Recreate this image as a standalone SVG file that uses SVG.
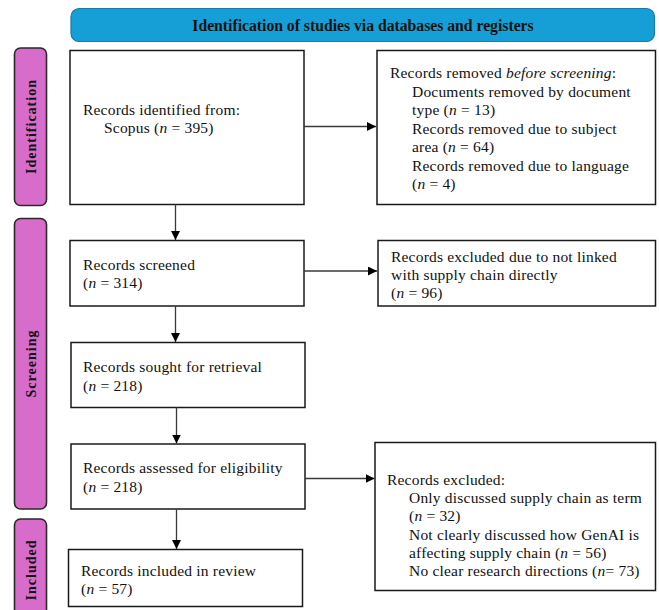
<svg xmlns="http://www.w3.org/2000/svg" width="659" height="610" viewBox="0 0 659 610">
<style>
.bg{fill:#ffffff}
.box{fill:#ffffff;stroke:#1a1a1a;stroke-width:1.5}
.hdr{fill:#169fd6;stroke:#1a7aa8;stroke-width:1.2}
.side{fill:#d76ccb;stroke:#2a2a2a;stroke-width:1.6}
.t{font-family:"Liberation Serif","Times New Roman",serif;font-size:15.5px;letter-spacing:0.2px;fill:#111}
.hb{font-family:"Liberation Serif","Times New Roman",serif;font-size:15.7px;font-weight:bold;fill:#111}
.sb{font-family:"Liberation Serif","Times New Roman",serif;font-size:14px;font-weight:bold;fill:#111;letter-spacing:1px}
.c{stroke:#3a3a3a;stroke-width:1.3;fill:none}
</style>
<defs>
<marker id="ah" viewBox="0 0 10 10" refX="10" refY="5" markerWidth="9" markerHeight="9" markerUnits="userSpaceOnUse" orient="auto">
<path d="M0,0 L10,5 L0,10 Z" fill="#000"/>
</marker>
</defs>
<rect class="bg" x="0" y="0" width="659" height="610"/>

<g id="header">
<rect class="hdr" x="71" y="8.5" width="583.5" height="33" rx="8"/>
<text class="hb" x="363" y="30.5" text-anchor="middle">Identification of studies via databases and registers</text>
</g>

<g id="side-identification">
<rect class="side" x="14.5" y="48" width="32" height="157.5" rx="6"/>
<text class="sb" transform="translate(35.5,126.5) rotate(-90)" text-anchor="middle">Identification</text>
</g>
<g id="side-screening">
<rect class="side" x="14.5" y="218.5" width="32" height="290.5" rx="6"/>
<text class="sb" transform="translate(35.5,363.5) rotate(-90)" text-anchor="middle">Screening</text>
</g>
<g id="side-included">
<rect class="side" x="14.5" y="519" width="32" height="104" rx="6"/>
<text class="sb" transform="translate(35.5,570) rotate(-90)" text-anchor="middle">Included</text>
</g>

<g id="identified">
<rect class="box" x="70" y="50.5" width="234" height="154"/>
<text class="t" x="83" y="115">Records identified from:</text>
<text class="t" x="104" y="133">Scopus (<tspan font-style="italic">n</tspan> = 395)</text>
</g>

<g id="removed">
<rect class="box" x="377" y="50.5" width="278.5" height="154"/>
<text class="t" x="390" y="78">Records removed <tspan font-style="italic">before screening</tspan>:</text>
<text class="t" x="412" y="96.5">Documents removed by document</text>
<text class="t" x="412" y="115">type (<tspan font-style="italic">n</tspan> = 13)</text>
<text class="t" x="412" y="133.5">Records removed due to subject</text>
<text class="t" x="412" y="152">area (<tspan font-style="italic">n</tspan> = 64)</text>
<text class="t" x="412" y="170.5">Records removed due to language</text>
<text class="t" x="412" y="189">(<tspan font-style="italic">n</tspan> = 4)</text>
</g>

<g id="screened">
<rect class="box" x="70" y="240.5" width="234" height="65.5"/>
<text class="t" x="83" y="269.5">Records screened</text>
<text class="t" x="83" y="288">(<tspan font-style="italic">n</tspan> = 314)</text>
</g>

<g id="excluded-link">
<rect class="box" x="378" y="240.5" width="277.5" height="65.5"/>
<text class="t" x="391" y="262">Records excluded due to not linked</text>
<text class="t" x="391" y="280">with supply chain directly</text>
<text class="t" x="391" y="298">(<tspan font-style="italic">n</tspan> = 96)</text>
</g>

<g id="sought">
<rect class="box" x="71" y="342.5" width="234" height="65"/>
<text class="t" x="83" y="372">Records sought for retrieval</text>
<text class="t" x="83" y="390.5">(<tspan font-style="italic">n</tspan> = 218)</text>
</g>

<g id="assessed">
<rect class="box" x="71" y="444" width="234" height="65"/>
<text class="t" x="83" y="472.5">Records assessed for eligibility</text>
<text class="t" x="83" y="492">(<tspan font-style="italic">n</tspan> = 218)</text>
</g>

<g id="excluded">
<rect class="box" x="375" y="442.5" width="280.5" height="148"/>
<text class="t" x="387" y="485">Records excluded:</text>
<text class="t" x="409" y="503">Only discussed supply chain as term</text>
<text class="t" x="409" y="521">(<tspan font-style="italic">n</tspan> = 32)</text>
<text class="t" x="409" y="539.5">Not clearly discussed how GenAI is</text>
<text class="t" x="409" y="557.5">affecting supply chain (<tspan font-style="italic">n</tspan> = 56)</text>
<text class="t" x="409" y="576">No clear research directions (<tspan font-style="italic">n</tspan>= 73)</text>
</g>

<g id="included">
<rect class="box" x="68.5" y="549.5" width="234" height="57"/>
<text class="t" x="81" y="575.5">Records included in review</text>
<text class="t" x="81" y="594">(<tspan font-style="italic">n</tspan> = 57)</text>
</g>

<g id="connectors">
<line class="c" x1="304" y1="126.5" x2="376" y2="126.5" marker-end="url(#ah)"/>
<line class="c" x1="175.5" y1="204.5" x2="175.5" y2="240" marker-end="url(#ah)"/>
<line class="c" x1="304" y1="271" x2="377" y2="271" marker-end="url(#ah)"/>
<line class="c" x1="175.5" y1="306" x2="175.5" y2="342" marker-end="url(#ah)"/>
<line class="c" x1="176.5" y1="407.5" x2="176.5" y2="443.5" marker-end="url(#ah)"/>
<line class="c" x1="305" y1="478.5" x2="374.5" y2="478.5" marker-end="url(#ah)"/>
<line class="c" x1="176.5" y1="509" x2="176.5" y2="549" marker-end="url(#ah)"/>
</g>
</svg>
